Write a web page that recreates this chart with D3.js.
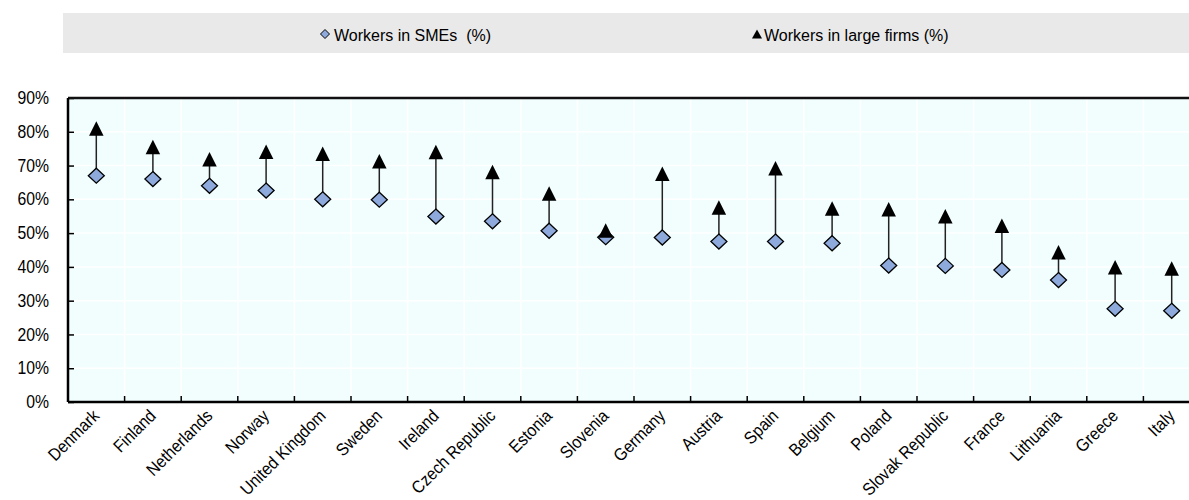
<!DOCTYPE html>
<html>
<head>
<meta charset="utf-8">
<script src="https://cdn.jsdelivr.net/npm/d3@7"></script>
<style>
  body { margin: 0; background: #fff; }
  svg { display: block; font-family: "Liberation Sans", Arial, sans-serif; }
  text { white-space: pre; }
</style>
</head>
<body>
<svg id="chart" width="1189" height="500"></svg>
<script>
var countries = ["Denmark", "Finland", "Netherlands", "Norway", "United Kingdom", "Sweden", "Ireland",
  "Czech Republic", "Estonia", "Slovenia", "Germany", "Austria", "Spain", "Belgium", "Poland",
  "Slovak Republic", "France", "Lithuania", "Greece", "Italy"];
var smes = [67.0, 66.0, 64.0, 62.6, 60.0, 59.9, 54.9, 53.5, 50.7, 48.8, 48.7, 47.5, 47.5, 47.0, 40.4,
  40.3, 39.1, 36.1, 27.6, 27.0];
var large = [81.0, 75.5, 71.9, 74.1, 73.5, 71.3, 74.0, 68.1, 61.7, 50.8, 67.6, 57.6, 69.2, 57.3, 57.1,
  55.0, 52.2, 44.3, 39.9, 39.5];
var yTicks = [0, 10, 20, 30, 40, 50, 60, 70, 80, 90];
var legendLabels = ["Workers in SMEs  (%)", "Workers in large firms (%)"];

var svg = d3.select("#chart");
var plotLeft = 68, plotTop = 98, plotBottom = 402, bandW = 56.6;
var plotRight = plotLeft + bandW * countries.length;

var x = d3.scaleBand().domain(countries).range([plotLeft, plotRight]);
var y = d3.scaleLinear().domain([0, 90]).range([plotBottom, plotTop]);

// the axis labels in the original are a bit narrow
var narrow = " scale(0.9,1)";
var labelSize = 17.5;

function diamondPath(w, h) {
  return "M0," + (-h) + "L" + w + ",0L0," + h + "L" + (-w) + ",0Z";
}
function trianglePath(w, h) {
  return "M0," + (-h / 2) + "L" + (w / 2) + "," + (h / 2) + "L" + (-w / 2) + "," + (h / 2) + "Z";
}

// legend
svg.append("rect").attr("x", 63).attr("y", 13).attr("width", 1189 - 63).attr("height", 40)
  .attr("fill", "#e9e9e9");

var lg = svg.append("g");
lg.append("path").attr("d", diamondPath(4.5, 4.5)).attr("transform", "translate(325,34)")
  .attr("fill", "#8eaadc").attr("stroke", "#000").attr("stroke-width", 1);
lg.append("text").attr("x", 334).attr("y", 41).attr("font-size", 16).attr("fill", "#000")
  .text(legendLabels[0]);
lg.append("path").attr("d", trianglePath(10, 9)).attr("transform", "translate(757,34)")
  .attr("fill", "#000");
lg.append("text").attr("x", 764).attr("y", 41).attr("font-size", 16).attr("fill", "#000")
  .text(legendLabels[1]);

// plot background
svg.append("rect").attr("x", plotLeft).attr("y", plotTop)
  .attr("width", plotRight - plotLeft).attr("height", plotBottom - plotTop)
  .attr("fill", "#f2fefe");

// grid
svg.append("g").selectAll("line").data(yTicks.slice(1, -1)).join("line")
  .attr("x1", plotLeft).attr("x2", plotRight)
  .attr("y1", function(d) { return y(d); }).attr("y2", function(d) { return y(d); })
  .attr("stroke", "#fff").attr("stroke-width", 1.5);
svg.append("g").selectAll("line").data(countries.slice(1)).join("line")
  .attr("x1", function(d) { return x(d); }).attr("x2", function(d) { return x(d); })
  .attr("y1", plotTop).attr("y2", plotBottom)
  .attr("stroke", "#fff").attr("stroke-width", 1.5);

// y axis
var yAxis = d3.axisLeft(y).tickValues(yTicks).tickSize(-6).tickPadding(18)
  .tickFormat(function(d) { return d + "%"; });
var gy = svg.append("g").attr("transform", "translate(" + plotLeft + ",0)").call(yAxis);
gy.select(".domain").remove();
gy.selectAll(".tick line").attr("stroke", "#000").attr("stroke-width", 1.5);
gy.selectAll("text").attr("font-size", labelSize).attr("fill", "#000")
  .attr("font-family", "Liberation Sans, Arial, sans-serif")
  .attr("x", 0).attr("transform", "translate(-19,0)" + narrow);

// top border
svg.append("line").attr("x1", plotLeft).attr("x2", plotRight).attr("y1", plotTop).attr("y2", plotTop)
  .attr("stroke", "#111").attr("stroke-width", 2.5);

// band tick marks
svg.append("g").selectAll("line").data(countries.slice(1)).join("line")
  .attr("x1", function(d) { return x(d); }).attr("x2", function(d) { return x(d); })
  .attr("y1", plotBottom).attr("y2", plotBottom - 6)
  .attr("stroke", "#000").attr("stroke-width", 1.5);

svg.append("line").attr("x1", plotLeft).attr("x2", plotLeft).attr("y1", plotTop).attr("y2", plotBottom)
  .attr("stroke", "#000").attr("stroke-width", 2.5);
svg.append("line").attr("x1", plotLeft).attr("x2", plotRight).attr("y1", plotBottom).attr("y2", plotBottom)
  .attr("stroke", "#000").attr("stroke-width", 2.5);

// x labels
svg.append("g").selectAll("text").data(countries).join("text")
  .attr("transform", function(d) {
    return "translate(" + (x(d) + x.bandwidth() / 2 + 4) + "," + (plotBottom + 15) + ") rotate(-45)" + narrow;
  })
  .attr("text-anchor", "end").attr("font-size", labelSize).attr("fill", "#000")
  .text(function(d) { return d; });

// connectors
var cx = function(i) { return x(countries[i]) + x.bandwidth() / 2; };
svg.append("g").selectAll("line").data(countries).join("line")
  .attr("x1", function(d, i) { return cx(i); }).attr("x2", function(d, i) { return cx(i); })
  .attr("y1", function(d, i) { return y(smes[i]); })
  .attr("y2", function(d, i) { return y(large[i]); })
  .attr("stroke", "#222").attr("stroke-width", 1.5);

// markers
svg.append("g").selectAll("path").data(smes).join("path")
  .attr("d", diamondPath(8, 7.5))
  .attr("transform", function(d, i) { return "translate(" + cx(i) + "," + y(d) + ")"; })
  .attr("fill", "#8eaadc").attr("stroke", "#000").attr("stroke-width", 1.3);
svg.append("g").selectAll("path").data(large).join("path")
  .attr("d", trianglePath(14.5, 14.5))
  .attr("transform", function(d, i) { return "translate(" + cx(i) + "," + y(d) + ")"; })
  .attr("fill", "#000");
</script>
</body>
</html>
